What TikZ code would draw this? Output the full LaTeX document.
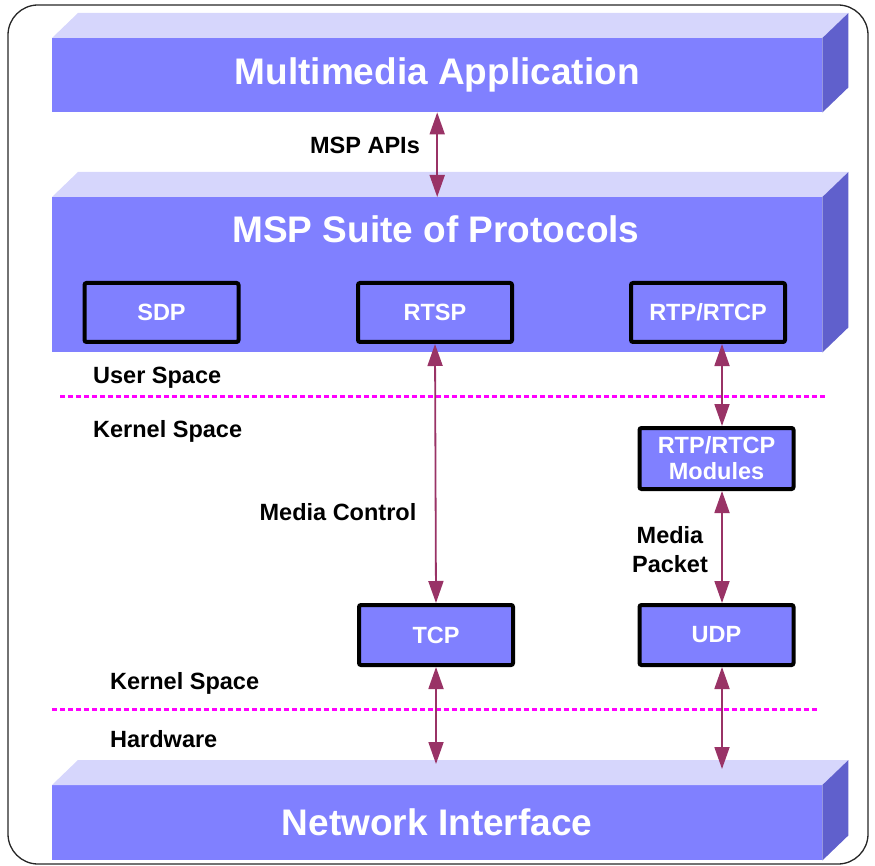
\documentclass[tikz,border=0pt]{standalone}
\usepackage{fontspec}
\setmainfont{Liberation Sans}
\usetikzlibrary{arrows.meta,calc}
\definecolor{front}{RGB}{128,128,255}
\definecolor{topf}{RGB}{214,214,252}
\definecolor{sidef}{RGB}{96,96,204}
\definecolor{arrc}{RGB}{153,51,102}
\definecolor{dashc}{RGB}{255,0,255}
\tikzset{
  titlefont/.style={font=\bfseries\fontsize{37}{40}\selectfont},
  face/.style={fill=front, draw=none, minimum width=770pt, inner sep=0pt, anchor=north west, text=white, titlefont},
  pbox/.style={fill=front, draw=black, line width=4pt, rounded corners=2pt, minimum width=154pt, inner sep=0pt, text=white, font=\bfseries\fontsize{23.5}{26}\selectfont, align=center},
  lbl/.style={font=\bfseries\fontsize{23.5}{27}\selectfont, text=black, inner sep=0pt},
  arr/.style={draw=arrc, line width=1.8pt, {Triangle[width=15pt,length=22pt]}-{Triangle[width=15pt,length=22pt]}, fill=arrc},
  layer/.style={draw=dashc, line width=3pt, dash pattern=on 5pt off 3pt}
}
\newcommand{\slab}[1]{%
  \fill[topf] (#1.north west) -- ++(26,-25) -- ($(#1.north east)+(26,-25)$) -- (#1.north east) -- cycle;
  \fill[sidef] (#1.north east) -- ++(26,-25) -- ($(#1.south east)+(26,-25)$) -- (#1.south east) -- cycle;
}
\begin{document}
\begin{tikzpicture}[x=1pt,y=-1pt]
\useasboundingbox (0,0) rectangle (875,866);
\draw[line width=1.3pt, draw=black!85, rounded corners=30pt] (8,5) rectangle (868,864);

% blocks
\node[face, minimum height=74pt] (app) at (52,38) {Multimedia Application};
\slab{app}
\node[face, minimum height=155pt] (msp) at (52,197) {};
\slab{msp}
\node[text=white, titlefont, inner sep=0pt] (msptitle) at (436,229) {MSP Suite of Protocols};
\node[face, minimum height=75pt] (net) at (52,785) {Network Interface};
\slab{net}

% protocol boxes
\node[pbox, minimum height=59pt] (sdp) at (161.5,312.5) {SDP};
\node[pbox, minimum height=59pt] (rtsp) at (435,312.5) {RTSP};
\node[pbox, minimum height=59pt] (rtp) at (708,312.5) {RTP/RTCP};
\node[pbox, minimum height=61pt, font=\bfseries\fontsize{23.5}{26}\selectfont] (mods) at (716.5,458.5) {RTP/RTCP\\Modules};
\node[pbox, minimum height=60pt] (tcp) at (436,635) {TCP};
\node[pbox, minimum height=60pt] (udp) at (716.5,635) {UDP};

% layer separators
\coordinate (d1a) at (60,396); \coordinate (d1b) at (825,396);
\coordinate (d2a) at (52,709); \coordinate (d2b) at (818,709);
\draw[layer] (d1a) -- (d1b);
\draw[layer] (d2a) -- (d2b);

% labels
\node[lbl, anchor=west] (us) at (93,378) {User Space};
\node[lbl, anchor=west] (ks1) at (93,431) {Kernel Space};
\node[lbl, anchor=west] (ks2) at (110,683) {Kernel Space};
\node[lbl, anchor=west] (hw) at (110,739) {Hardware};
\node[lbl] (apis) at (365,145) {MSP APIs};
\node[lbl] (mc) at (338,512) {Media Control};
\node[lbl, align=center, font=\bfseries\fontsize{23.5}{29}\selectfont] (mp) at (670,550) {Media\\Packet};

% connectors
\coordinate (ax) at (722,0);
\coordinate (nt1) at (0,764);
\coordinate (nt2) at (0,769);
\draw[arr] (app.south) -- (msp.north);
\draw[arr] (rtsp.south) -- (tcp.north);
\draw[arr] (rtp.south -| ax) -- (mods.north -| ax);
\draw[arr] (mods.south -| ax) -- (udp.north -| ax);
\draw[arr] (tcp.south) -- (tcp.south |- nt1);
\draw[arr] (udp.south -| ax) -- (ax |- nt2);
\end{tikzpicture}
\end{document}
